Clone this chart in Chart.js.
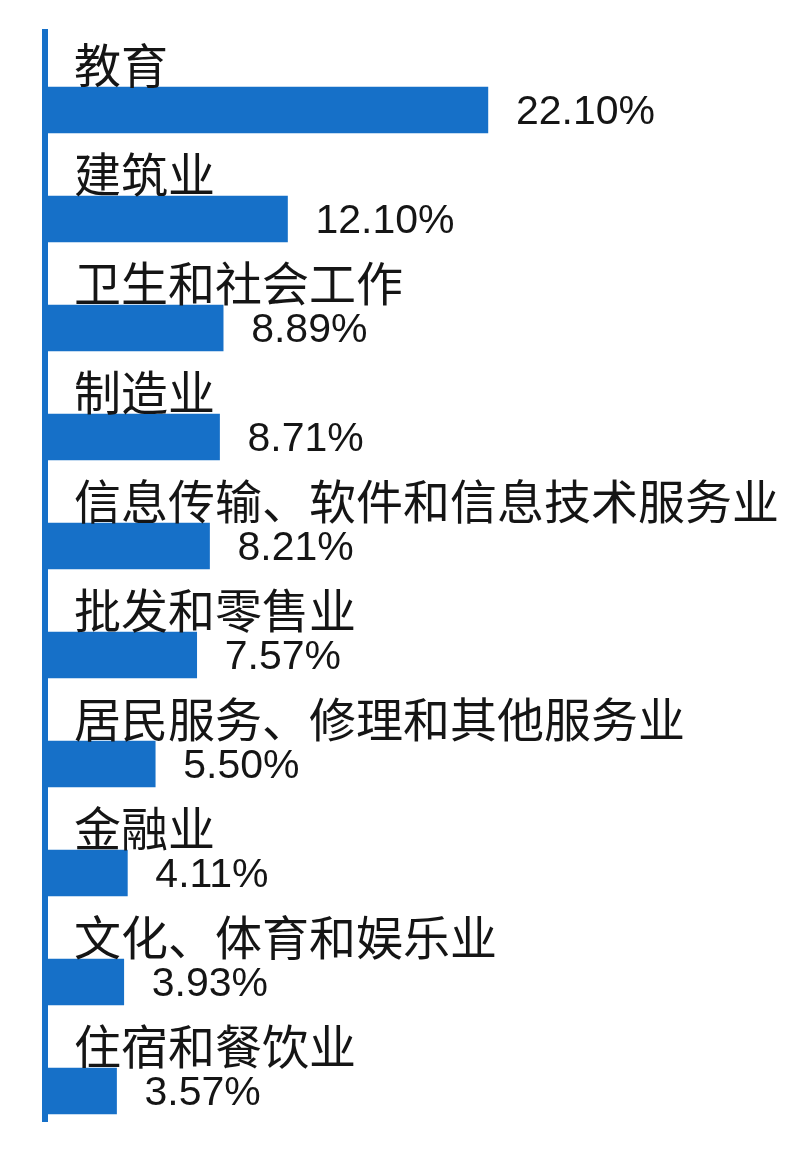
<!DOCTYPE html>
<html>
<head>
<meta charset="utf-8">
<script src="https://cdn.jsdelivr.net/npm/chart.js@4.4.1/dist/chart.umd.min.js"></script>
<style>
html,body{margin:0;padding:0;background:#ffffff;}
#wrap{width:808px;height:1152px;position:relative;}
</style>
</head>
<body>
<div id="wrap"><canvas id="c"></canvas></div>
<script>
const categories = [
  "教育",
  "建筑业",
  "卫生和社会工作",
  "制造业",
  "信息传输、软件和信息技术服务业",
  "批发和零售业",
  "居民服务、修理和其他服务业",
  "金融业",
  "文化、体育和娱乐业",
  "住宿和餐饮业"
];
const values = [22.10, 12.10, 8.89, 8.71, 8.21, 7.57, 5.50, 4.11, 3.93, 3.57];
const valueLabels = ["22.10%", "12.10%", "8.89%", "8.71%", "8.21%", "7.57%", "5.50%", "4.11%", "3.93%", "3.57%"];

const BLUE = '#1670c8';

const labelPlugin = {
  id: 'labelPlugin',
  afterDatasetsDraw(chart) {
    const ctx = chart.ctx;
    const meta = chart.getDatasetMeta(0);
    const left = chart.chartArea.left;
    ctx.save();
    meta.data.forEach((bar, i) => {
      const top = bar.y - bar.height / 2;
      ctx.fillStyle = '#151515';
      ctx.font = '47px "Noto Sans CJK SC", "Noto Sans", sans-serif';
      ctx.textAlign = 'left';
      ctx.textBaseline = 'alphabetic';
      ctx.fillText(categories[i], left + 29, top - 4);
      ctx.font = '41px "Liberation Sans", Arial, sans-serif';
      ctx.textBaseline = 'middle';
      ctx.fillText(valueLabels[i], bar.x + 28, bar.y + 3);
    });
    ctx.restore();
  }
};

new Chart(document.getElementById('c'), {
  type: 'bar',
  data: {
    datasets: [{
      data: values.map((v, i) => ({x: v, y: i})),
      backgroundColor: BLUE,
      borderWidth: 0,
      barThickness: 46
    }]
  },
  options: {
    indexAxis: 'y',
    responsive: true,
    maintainAspectRatio: false,
    animation: false,
    devicePixelRatio: 1,
    layout: {padding: {left: 45, right: 262, top: 32, bottom: 31}},
    plugins: {legend: {display: false}, tooltip: {enabled: false}},
    scales: {
      x: {type: 'linear', display: false, min: 0, max: 25},
      y: {
        type: 'linear',
        reverse: true,
        offset: false,
        min: -0.7156,
        max: 9.2752,
        grid: {display: false, offset: false},
        ticks: {display: false},
        border: {display: true, color: BLUE, width: 6},
        afterFit(scale) { scale.width = 0; }
      }
    }
  },
  plugins: [labelPlugin]
});
</script>
</body>
</html>
